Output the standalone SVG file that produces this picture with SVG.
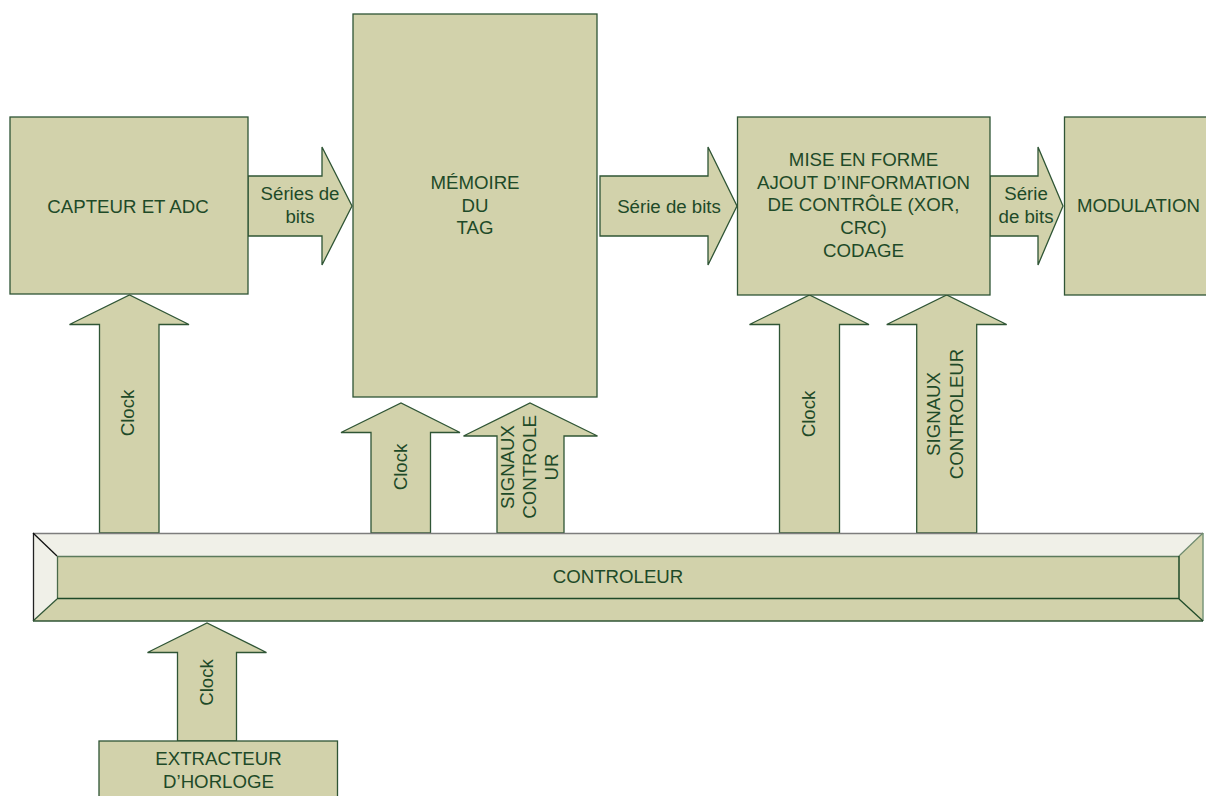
<svg xmlns="http://www.w3.org/2000/svg" width="1206" height="796" viewBox="0 0 1206 796">
<style>
.box{fill:#d2d2ab;stroke:#2f5535;stroke-width:1.3}
.arr{fill:#d2d2ab;stroke:#2f5535;stroke-width:1.3;stroke-linejoin:miter}
.t{font-family:"Liberation Sans",Arial,sans-serif;font-size:18.67px;fill:#1e4a28;text-anchor:middle}
</style>
<rect width="1206" height="796" fill="#ffffff"/>
<g id="connectors">
<g id="a-capteur-memoire">
<polygon class="arr" points="248,176 322,176 322,147 352,206 322,265 322,236 248,236"/>
<text class="t" x="300" y="200">Séries de</text>
<text class="t" x="300" y="222.7">bits</text>
</g>
<g id="a-memoire-mise">
<polygon class="arr" points="600,176 708,176 708,147 737,206 708,265 708,236 600,236"/>
<text class="t" x="669" y="212.7">Série de bits</text>
</g>
<g id="a-mise-modulation">
<polygon class="arr" points="990,176 1038,176 1038,147 1063,206 1038,265 1038,236 990,236"/>
<text class="t" x="1026" y="200">Série</text>
<text class="t" x="1026" y="222.7">de bits</text>
</g>
<g id="a-clock-capteur">
<polygon class="arr" points="99.5,533 99.5,324.5 69.5,324.5 129.5,295 189,324.5 159,324.5 159,533"/>
<text class="t" transform="translate(127,413) rotate(-90)" x="0" y="6.7">Clock</text>
</g>
<g id="a-clock-memoire">
<polygon class="arr" points="371,533 371,432.5 341,432.5 401,403 460,432.5 430.5,432.5 430.5,533"/>
<text class="t" transform="translate(400,467) rotate(-90)" x="0" y="6.7">Clock</text>
</g>
<g id="a-signaux-memoire">
<polygon class="arr" points="497,533 497,436 463.5,436 530,403 597.5,436 564,436 564,533"/>
<text class="t" transform="translate(529,467) rotate(-90)"><tspan x="0" y="-15.3">SIGNAUX</tspan><tspan x="0" y="6.7">CONTROLE</tspan><tspan x="0" y="28.7">UR</tspan></text>
</g>
<g id="a-clock-mise">
<polygon class="arr" points="779.5,533 779.5,324.5 749.5,324.5 809.5,295 869,324.5 839.5,324.5 839.5,533"/>
<text class="t" transform="translate(808,414) rotate(-90)" x="0" y="6.7">Clock</text>
</g>
<g id="a-signaux-mise">
<polygon class="arr" points="916.7,533 916.7,324.5 886.7,324.5 946.7,295 1006.7,324.5 976.7,324.5 976.7,533"/>
<text class="t" transform="translate(945,414) rotate(-90)"><tspan x="0" y="-4.8">SIGNAUX</tspan><tspan x="0" y="18.2">CONTROLEUR</tspan></text>
</g>
<g id="a-clock-extracteur">
<polygon class="arr" points="177.5,741 177.5,652.5 147.5,652.5 207,623 266.5,652.5 236.5,652.5 236.5,741"/>
<text class="t" transform="translate(206.5,682.5) rotate(-90)" x="0" y="6.7">Clock</text>
</g>
</g>
<g id="capteur">
<rect class="box" x="10" y="117" width="238" height="177"/>
<text class="t" x="128" y="212.7">CAPTEUR ET ADC</text>
</g>
<g id="memoire">
<rect class="box" x="353" y="14" width="244" height="383"/>
<text class="t" x="475" y="189.3">MÉMOIRE</text>
<text class="t" x="475" y="212">DU</text>
<text class="t" x="475" y="234.3">TAG</text>
</g>
<g id="mise-en-forme">
<rect class="box" x="737.5" y="117" width="252.5" height="178"/>
<text class="t" x="863.5" y="166">MISE EN FORME</text>
<text class="t" x="863.5" y="188.7">AJOUT D’INFORMATION</text>
<text class="t" x="863.5" y="211.4">DE CONTRÔLE (XOR,</text>
<text class="t" x="863.5" y="234.1">CRC)</text>
<text class="t" x="863.5" y="256.8">CODAGE</text>
</g>
<g id="modulation">
<rect class="box" x="1064.5" y="117" width="160" height="178"/>
<text class="t" x="1138.5" y="211.7">MODULATION</text>
</g>
<g id="controleur">
<polygon points="33,533 1203,533 1179,556 57,556" fill="#f0f0e8"/>
<polygon points="33,533 57,556 57,599 33,621" fill="#f0f0e8"/>
<polygon points="33,621 57,599 1179,599 1203,621" fill="#d2d2ab"/>
<polygon points="1203,533 1179,556 1179,599 1203,621" fill="#d2d2ab"/>
<rect x="57" y="556" width="1122" height="43" fill="#d2d2ab"/>
<line x1="33" y1="533.5" x2="1203" y2="533.5" stroke="#7d7d7d" stroke-width="1.5"/>
<line x1="33.5" y1="533" x2="33.5" y2="621" stroke="#222" stroke-width="1.3"/>
<line x1="33" y1="621" x2="1203" y2="621" stroke="#2f5535" stroke-width="1.5"/>
<line x1="1203" y1="533" x2="1203" y2="621" stroke="#7a967a" stroke-width="1.5"/>
<line x1="33" y1="533" x2="57" y2="556" stroke="#111" stroke-width="1.3"/>
<line x1="33" y1="621" x2="57" y2="599" stroke="#2f5535" stroke-width="1.2"/>
<line x1="1203" y1="533" x2="1179" y2="556" stroke="#6e8a6e" stroke-width="1.2"/>
<line x1="1203" y1="621" x2="1179" y2="599" stroke="#1e4a28" stroke-width="1.3"/>
<line x1="57" y1="556.5" x2="1179" y2="556.5" stroke="#5c7a5c" stroke-width="1.3"/>
<line x1="57.5" y1="556" x2="57.5" y2="599" stroke="#4a6a4a" stroke-width="1.3"/>
<line x1="57" y1="598.5" x2="1179" y2="598.5" stroke="#1e4a28" stroke-width="1.5"/>
<line x1="1179" y1="556" x2="1179" y2="599" stroke="#1e4a28" stroke-width="1.5"/>
<text class="t" x="618" y="583.3">CONTROLEUR</text>
</g>
<g id="extracteur">
<rect class="box" x="99" y="741" width="238.5" height="70"/>
<text class="t" x="218.5" y="765">EXTRACTEUR</text>
<text class="t" x="218.5" y="787.7">D’HORLOGE</text>
</g>
</svg>
